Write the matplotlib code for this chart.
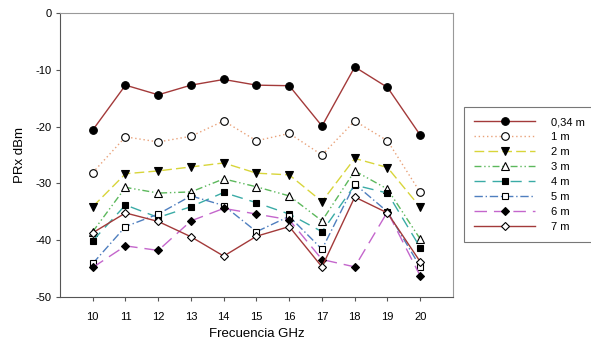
import numpy as np
from matplotlib import pyplot

pyplot.rcParams['font.family'] = ['Liberation Sans', 'DejaVu Sans']
pyplot.rcParams['axes.unicode_minus'] = False

# frecuencias y potencia recibida por distancia
freq = [10, 11, 12, 13, 14, 15, 16, 17, 18, 19, 20]
prx_034 = [-20.6, -12.7, -14.4, -12.7, -11.7, -12.7, -12.8, -19.9, -9.5, -13.1, -21.5]
prx_1 = [-28.1, -21.8, -22.7, -21.7, -19.0, -22.5, -21.2, -25.0, -19.0, -22.5, -31.6]
prx_2 = [-34.1, -28.3, -27.8, -27.1, -26.4, -28.2, -28.5, -33.2, -25.6, -27.2, -34.2]
prx_3 = [-38.5, -30.7, -31.7, -31.5, -29.2, -30.6, -32.2, -36.6, -27.8, -31.0, -39.8]
prx_4 = [-40.1, -33.8, -36.0, -34.1, -31.6, -33.4, -35.4, -38.5, -30.3, -31.7, -41.3]
prx_5 = [-44.1, -37.6, -35.4, -32.2, -33.9, -38.5, -35.8, -41.6, -30.1, -35.0, -44.7]
prx_6 = [-44.8, -41.0, -41.8, -36.6, -34.4, -35.4, -36.4, -43.4, -44.7, -35.0, -46.3]
prx_7 = [-38.7, -35.2, -36.7, -39.4, -42.8, -39.3, -37.6, -44.7, -32.4, -35.2, -43.8]
labels = ['0,34 m', '1 m', '2 m', '3 m', '4 m', '5 m', '6 m', '7 m']

series = [prx_034, prx_1, prx_2, prx_3, prx_4, prx_5, prx_6, prx_7]
colors = ['#a33a3a', '#e9a27a', '#d8d53a', '#5cb85c', '#3aaba6', '#4f7fbf', '#c466cc', '#a33a3a']
styles = ['-', (0, (1, 2)), (0, (7, 3)), (0, (5, 2, 1, 2, 1, 2)), (0, (8, 5)),
          (0, (6, 2, 1, 2)), (0, (9, 5)), '-']
markers = ['o', 'o', 'v', '^', 's', 's', 'D', 'D']
faces = ['black', 'white', 'black', 'white', 'black', 'white', 'black', 'white']
msizes = [5.5, 5.5, 5.5, 5.5, 5, 5, 4.5, 4.5]

fig = pyplot.figure(figsize=(5.91, 3.47), dpi=100)
axes = fig.add_axes([0.1015, 0.1441, 0.665, 0.8184])

for y, lab, c, ls, m, fc, ms in zip(series, labels, colors, styles, markers, faces, msizes):
    axes.plot(freq, y, color=c, linestyle=ls, linewidth=1.0, marker=m, markersize=ms,
              markerfacecolor=fc, markeredgecolor='black', markeredgewidth=0.8, label=lab)

axes.set_xlim(9, 21)
axes.set_ylim(-50, 0)
axes.set_xticks(freq)
axes.set_yticks([0, -10, -20, -30, -40, -50])
axes.tick_params(axis='x', direction='out', length=3, pad=8, labelsize=8, color='#555555')
axes.tick_params(axis='y', direction='out', length=3, pad=3, labelsize=8, color='#555555')
for side in ['left', 'bottom']:
    axes.spines[side].set_color('#555555')
for side in ['top', 'right']:
    axes.spines[side].set_color('#999999')
axes.set_xlabel('Frecuencia GHz', fontsize=9.5, labelpad=4)
axes.set_ylabel('PRx dBm', fontsize=9.5, labelpad=7)

leg = axes.legend(loc='upper left', bbox_to_anchor=(464 / 591, 1 - 107 / 347),
                  bbox_transform=fig.transFigure, fontsize=8, handlelength=5.5,
                  handletextpad=1.4, labelspacing=0.45, borderpad=0.9,
                  fancybox=False, framealpha=1, edgecolor='#777777', borderaxespad=0)
leg.get_frame().set_linewidth(0.8)

pyplot.savefig('out.png', dpi=100)
